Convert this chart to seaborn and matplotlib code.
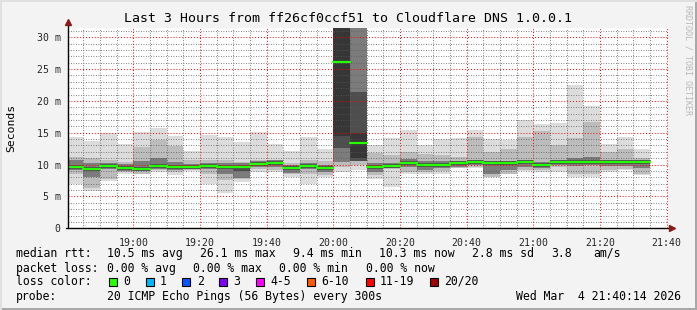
import numpy as np
import pandas as pd
import matplotlib
matplotlib.use("Agg")
import matplotlib.pyplot as plt
import seaborn as sns
from matplotlib.patches import Rectangle
from matplotlib.lines import Line2D
from matplotlib.ticker import FixedLocator, FixedFormatter, MultipleLocator

# ---------------- data (milliseconds) ----------------
# one 5-minute slot per bar, starting 18:40, last slot 21:30-21:35
slot_minutes = list(range(0, 175, 5))  # minutes after 18:40

rtt_min = [6.9, 5.8, 7.4, 8.6, 8.5, 8.9, 8.4, 9.0, 7.0, 5.6, 7.3, 8.9, 8.9, 8.1, 7.0, 8.1,
           8.9, 9.1, 7.8, 6.5, 8.5, 8.6, 8.6, 9.4, 9.4, 8.0, 8.6, 9.0, 8.9, 8.9, 8.1, 8.1,
           8.9, 9.1, 8.35]
rtt_max = [14.4, 13.75, 15.0, 13.2, 15.1, 15.8, 14.5, 12.1, 14.7, 14.4, 13.5, 15.1, 13.3, 12.1,
           14.4, 12.4, 45.0, 45.0, 13.1, 14.1, 15.4, 13.1, 14.0, 14.1, 15.4, 14.0, 13.9, 17.0,
           16.4, 16.6, 22.5, 19.2, 13.3, 14.4, 12.4]
band1_lo = [8.6, 6.3, 7.8, 8.9, 8.6, 9.1, 8.8, 9.1, 8.5, 7.6, 7.8, 9.3, 9.2, 8.6, 8.5, 8.4,
            9.7, 9.9, 8.3, 9.3, 8.8, 8.9, 9.0, 9.4, 9.6, 8.1, 8.6, 9.2, 9.1, 9.6, 8.5, 8.6,
            9.2, 9.3, 8.6]
band1_hi = [11.2, 11.0, 10.7, 10.4, 12.8, 13.9, 12.9, 10.7, 10.7, 10.7, 10.4, 10.8, 10.8, 10.3,
            10.8, 10.6, 45.0, 45.0, 11.8, 11.5, 12.0, 11.7, 11.5, 11.2, 14.4, 12.0, 12.5, 14.4,
            15.2, 13.1, 14.1, 16.7, 12.0, 12.4, 11.0]
band2_lo = [9.1, 8.0, 9.3, 9.0, 9.0, 9.3, 9.2, 9.3, 9.3, 8.5, 7.9, 9.7, 9.7, 8.7, 9.3, 8.8,
            10.4, 10.5, 8.8, 9.4, 9.6, 9.2, 9.5, 9.7, 9.9, 8.6, 9.1, 9.6, 9.4, 9.9, 9.8, 9.9,
            9.8, 9.8, 9.5]
band2_hi = [10.7, 10.3, 10.3, 10.1, 10.5, 11.0, 10.4, 10.1, 10.3, 10.2, 10.3, 10.6, 10.8, 10.0,
            10.3, 10.0, 45.0, 45.0, 10.3, 10.2, 10.9, 10.6, 10.5, 10.6, 10.8, 10.5, 10.5, 10.8,
            10.4, 10.8, 11.0, 11.2, 10.7, 10.8, 10.7]
band3_lo = [9.35, 9.0, 9.5, 9.2, 9.0, 9.5, 9.35, 9.35, 9.5, 9.3, 9.0, 9.8, 10.0, 9.2, 9.5, 9.2,
            12.6, 10.6, 9.35, 9.45, 10.0, 9.7, 9.7, 10.0, 10.05, 9.9, 9.9, 10.05, 9.6, 10.05,
            10.15, 10.15, 10.05, 10.05, 10.05]
band3_hi = [9.95, 9.6, 10.1, 9.8, 9.6, 10.1, 9.95, 9.95, 10.1, 9.9, 10.0, 10.4, 10.6, 9.8, 10.1,
            9.8, 45.0, 21.4, 9.95, 10.05, 10.6, 10.3, 10.3, 10.6, 10.65, 10.5, 10.5, 10.65,
            10.2, 10.65, 10.75, 10.75, 10.65, 10.65, 10.65]
# darkest core, only present where the pings were widely spread
band4_lo = [np.nan] * 16 + [14.5, 11.0] + [np.nan] * 17
band4_hi = [np.nan] * 16 + [45.0, 15.0] + [np.nan] * 17
median_rtt = [9.65, 9.3, 9.8, 9.5, 9.3, 9.8, 9.65, 9.65, 9.8, 9.6, 9.65, 10.1, 10.3, 9.5, 9.8,
              9.5, 26.1, 13.4, 9.65, 9.75, 10.3, 10.0, 10.0, 10.3, 10.35, 10.2, 10.2, 10.35,
              9.9, 10.35, 10.45, 10.45, 10.35, 10.35, 10.35]

x_tick_minutes = [20, 40, 60, 80, 100, 120, 140, 160, 180]
x_tick_labels = ["19:00", "19:20", "19:40", "20:00", "20:20", "20:40", "21:00", "21:20", "21:40"]
y_tick_values = [0, 5, 10, 15, 20, 25, 30]
y_tick_labels = ["0", "5 m", "10 m", "15 m", "20 m", "25 m", "30 m"]

loss_labels = ["0", "1", "2", "3", "4-5", "6-10", "11-19", "20/20"]
loss_colors = ["#26ff00", "#00b8ff", "#0059ff", "#7e00ff", "#ff00ff", "#ff5a00", "#ff0000", "#a10000"]

df = pd.DataFrame({"t": slot_minutes, "lo0": rtt_min, "hi0": rtt_max,
                   "lo1": band1_lo, "hi1": band1_hi, "lo2": band2_lo, "hi2": band2_hi,
                   "lo3": band3_lo, "hi3": band3_hi, "lo4": band4_lo, "hi4": band4_hi,
                   "median": median_rtt})

# median as one horizontal segment per slot
seg = pd.concat([
    pd.DataFrame({"slot": range(len(df)), "x": df["t"], "y": df["median"]}),
    pd.DataFrame({"slot": range(len(df)), "x": df["t"] + 5, "y": df["median"]}),
]).sort_values(["slot", "x"])

# ---------------- figure ----------------
sns.set_theme(style="white")
plt.rcParams["font.family"] = ["DejaVu Sans Mono", "DejaVu Sans"]

W, H = 697, 310
fig = plt.figure(figsize=(W / 100, H / 100), dpi=100, facecolor="#f3f3f3")
ax = fig.add_axes([67.5 / W, 1 - 228.3 / H, 600 / W, 200 / H])
ax.set_facecolor("white")

band_colors = ["#dcdcdc", "#bcbcbc", "#7c7c7c", "#4e4e4e", "#363636"]
for i, col in enumerate(band_colors):
    sub = df.dropna(subset=[f"lo{i}", f"hi{i}"])
    ax.bar(sub["t"], sub[f"hi{i}"] - sub[f"lo{i}"], bottom=sub[f"lo{i}"], width=5, align="edge",
           color=col, linewidth=0, zorder=1 + i * 0.1)

sns.lineplot(data=seg, x="x", y="y", units="slot", estimator=None, color="#26ff00", lw=1.6,
             ax=ax, zorder=5, sort=False, legend=False)

ax.set_xlim(0.233, 180.233)
ax.set_ylim(0, 31.4)

# grid
ax.xaxis.set_major_locator(FixedLocator(x_tick_minutes))
ax.xaxis.set_major_formatter(FixedFormatter(x_tick_labels))
ax.xaxis.set_minor_locator(MultipleLocator(5))
ax.yaxis.set_major_locator(FixedLocator(y_tick_values))
ax.yaxis.set_major_formatter(FixedFormatter(y_tick_labels))
ax.yaxis.set_minor_locator(MultipleLocator(1))
ax.grid(True, which="minor", color=(0.35, 0.35, 0.35, 0.15), linestyle=(0, (1, 2)), lw=0.6, zorder=6)
ax.grid(True, which="major", color=(1, 0, 0, 0.3), linestyle=(0, (1, 2)), lw=0.7, zorder=6)
ax.set_axisbelow(False)

ax.tick_params(axis="both", which="major", direction="out", length=3, width=0.8,
               color="black", labelsize=7.1, pad=2)
ax.tick_params(axis="both", which="minor", direction="out", length=2, width=0.6, color="black")
ax.tick_params(axis="x", which="major", pad=4)
for s in ax.spines.values():
    s.set_visible(False)
ax.set_xlabel("")
ax.set_ylabel("")

# axes lines with arrows
ax.add_line(Line2D([0, 0], [0, 1.03], transform=ax.transAxes, color="black", lw=1, clip_on=False, zorder=7))
ax.add_line(Line2D([-0.003, 1.006], [0, 0], transform=ax.transAxes, color="black", lw=1, clip_on=False, zorder=7))
ax.plot([0], [1.033], marker="^", color="#8b1a1a", markersize=4.5, transform=ax.transAxes, clip_on=False, zorder=8)
ax.plot([1.007], [0], marker=">", color="#8b1a1a", markersize=4.5, transform=ax.transAxes, clip_on=False, zorder=8)

# texts
def ft(x, y, s, **kw):
    kw.setdefault("fontsize", 8.3)
    kw.setdefault("va", "center")
    fig.text(x / W, 1 - y / H, s, color="black", **kw)

ft(347.5, 19, "Last 3 Hours from ff26cf0ccf51 to Cloudflare DNS 1.0.0.1", ha="center", fontsize=9.55)
ft(11, 128, "Seconds", ha="center", rotation=90, fontsize=8.2)
fig.text(688 / W, 1 - 60 / H, "RRDTOOL / TOBI OETIKER", rotation=270, ha="center", va="center",
         fontsize=6, color="#b8b8b8")

y1, y2, y3, y4 = 253.5, 268.7, 281.5, 296.7
ft(16, y1, "median rtt:")
for xx, s in zip([107.3, 200, 293.3, 379, 472, 551, 593],
                 ["10.5 ms avg", "26.1 ms max", "9.4 ms min", "10.3 ms now", "2.8 ms sd", "3.8", "am/s"]):
    ft(xx, y1, s)
ft(16, y2, "packet loss:")
for xx, s in zip([107.3, 193.3, 279.3, 365.7], ["0.00 % avg", "0.00 % max", "0.00 % min", "0.00 % now"]):
    ft(xx, y2, s)
ft(16, y3, "loss color:")
box_x = [109, 145.7, 182.3, 219, 255.7, 307.3, 365.7, 430.2]
lab_x = [123.3, 160, 196.7, 233.3, 270, 321.7, 380, 444]
for bx, lx, lab, col in zip(box_x, lab_x, loss_labels, loss_colors):
    fig.patches.append(Rectangle((bx / W, 1 - (y3 + 4) / H), 8 / W, 8 / H, transform=fig.transFigure,
                                 facecolor=col, edgecolor="black", lw=0.8, figure=fig))
    ft(lx, y3, lab)
ft(16, y4, "probe:")
ft(107.3, y4, "20 ICMP Echo Pings (56 Bytes) every 300s")
ft(681, y4, "Wed Mar  4 21:40:14 2026", ha="right")

# frame
fig.patches.append(Rectangle((0, 0), 1, 2 / H, transform=fig.transFigure, facecolor="#a8a8a8", lw=0, figure=fig))
fig.patches.append(Rectangle((1 - 2 / W, 0), 2 / W, 1, transform=fig.transFigure, facecolor="#a8a8a8", lw=0, figure=fig))
fig.patches.append(Rectangle((0, 1 - 2 / H), 1, 2 / H, transform=fig.transFigure, facecolor="#e0e0e0", lw=0, figure=fig))
fig.patches.append(Rectangle((0, 0), 2 / W, 1, transform=fig.transFigure, facecolor="#e0e0e0", lw=0, figure=fig))

fig.savefig("out.png", dpi=100, facecolor=fig.get_facecolor())
